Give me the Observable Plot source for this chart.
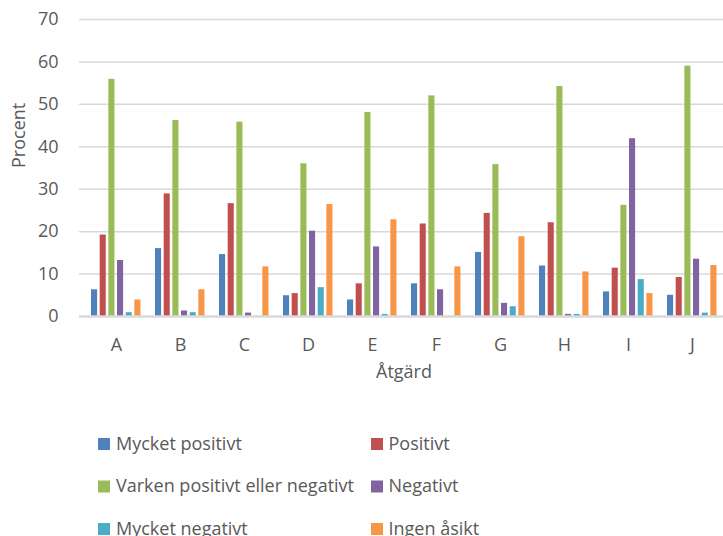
<!DOCTYPE html>
<html>
<head>
<meta charset="utf-8">
<script src="https://cdn.jsdelivr.net/npm/d3@7"></script>
<script src="https://cdn.jsdelivr.net/npm/@observablehq/plot@0.6"></script>
<style>
  html, body { margin: 0; padding: 0; background: #fff; overflow: hidden; }
  #chart { position: relative; width: 723px; height: 536px; font-family: "Open Sans", sans-serif; color: #595959; }
  #chart > svg.legend { position: absolute; left: 0; top: 0; }
</style>
</head>
<body>
<div id="chart"></div>
<script>
const categories = ["A", "B", "C", "D", "E", "F", "G", "H", "I", "J"];
const series = ["Mycket positivt", "Positivt", "Varken positivt eller negativt", "Negativt", "Mycket negativt", "Ingen åsikt"];
const mycketPositivt = [6.3, 16.0, 14.6, 4.9, 3.9, 7.7, 15.1, 11.9, 5.8, 5.0];
const positivt       = [19.2, 28.9, 26.6, 5.4, 7.7, 21.8, 24.3, 22.1, 11.4, 9.2];
const varken         = [55.9, 46.2, 45.8, 36.0, 48.1, 52.0, 35.8, 54.2, 26.2, 59.0];
const negativt       = [13.2, 1.3, 0.8, 20.1, 16.4, 6.3, 3.1, 0.5, 41.9, 13.5];
const mycketNegativt = [0.9, 0.9, 0, 6.8, 0.5, 0, 2.3, 0.5, 8.7, 0.8];
const ingenAsikt     = [3.9, 6.3, 11.7, 26.4, 22.8, 11.7, 18.8, 10.5, 5.4, 12.0];
const yTicks = [0, 10, 20, 30, 40, 50, 60, 70];
const yTitle = "Procent";
const xTitle = "Åtgärd";

const colors = ["#4F81BD", "#C0504D", "#9BBB59", "#8064A2", "#4BACC6", "#F79646"];
const values = [mycketPositivt, positivt, varken, negativt, mycketNegativt, ingenAsikt];

const data = categories.flatMap((c, i) => series.map((s, j) => ({category: c, series: s, value: values[j][i]})));

const width = 723, height = 395;
const mLeft = 79, mRight = -5, mTop = 19, mBottom = 79;
const bw = (width - mRight - mLeft) / categories.length;
const groupOffset = 7, slot = 8.67, barW = 7;
const FONT = "Open Sans, sans-serif";

const barMarks = series.map((s, j) => {
  const l = groupOffset + j * slot;
  return Plot.barY(data.filter(d => d.series === s), {
    x: "category", y: "value", fill: colors[j],
    insetLeft: l, insetRight: bw - l - barW
  });
});

const plot = Plot.plot({
  width, height,
  marginLeft: mLeft, marginRight: mRight, marginTop: mTop, marginBottom: mBottom,
  style: {fontFamily: FONT, fontSize: "18px", color: "#595959", background: "transparent"},
  x: {domain: categories, padding: 0, label: null, tickSize: 0, tickPadding: 22},
  y: {domain: [0, 70], ticks: yTicks, label: null, tickSize: 0, tickPadding: 21},
  marks: [
    Plot.ruleY(yTicks.filter(t => t > 0), {stroke: "#d9d9d9", strokeWidth: 1.5}),
    ...barMarks,
    Plot.ruleY([0], {stroke: "#d9d9d9", strokeWidth: 2.5}),
    Plot.text([yTitle], {frameAnchor: "left", dx: -60, rotate: -90, text: d => d, fill: "#595959", fontSize: 18}),
    Plot.text([xTitle], {frameAnchor: "bottom", dy: 61.5, text: d => d, fill: "#595959", fontSize: 18})
  ]
});

const chart = document.getElementById("chart");
chart.appendChild(plot);

// legend
const capTops = [437, 479.5, 522];
const colX = [98, 371];
const textX = [116, 388.5];
const lsvg = d3.select(chart).append("svg")
  .attr("class", "legend")
  .attr("width", 723).attr("height", 536)
  .style("font-family", FONT).style("font-size", "18px");
series.forEach((s, j) => {
  const col = j % 2, row = Math.floor(j / 2);
  lsvg.append("rect")
    .attr("x", colX[col]).attr("y", capTops[row] + 1)
    .attr("width", 12).attr("height", 12)
    .attr("fill", colors[j]);
  lsvg.append("text")
    .attr("x", textX[col]).attr("y", capTops[row] + 12.85)
    .attr("fill", "#595959")
    .text(s);
});
</script>
</body>
</html>
